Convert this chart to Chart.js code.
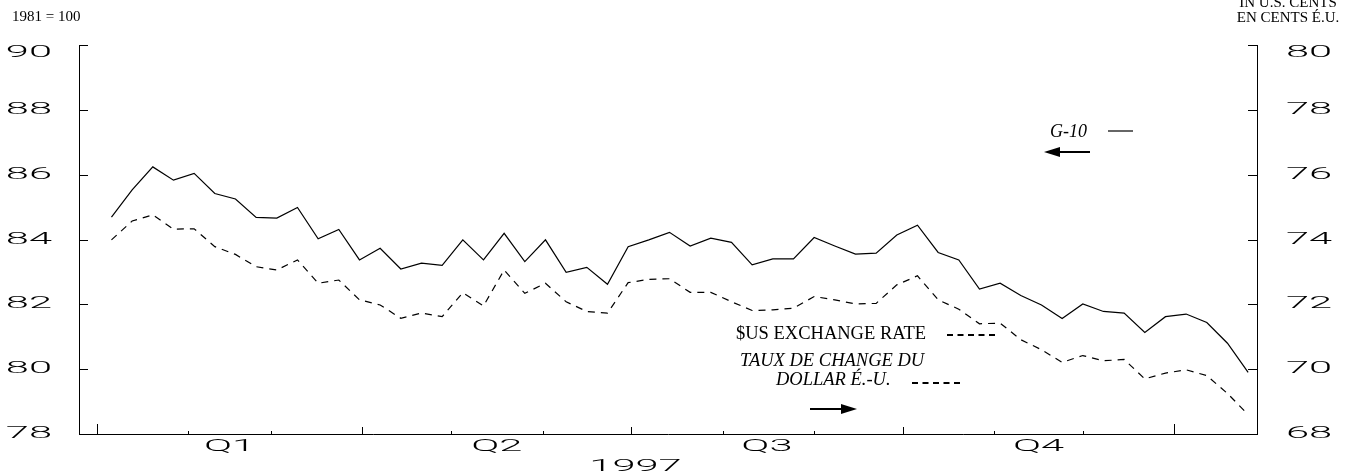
<!DOCTYPE html>
<html>
<head>
<meta charset="utf-8">
<script src="https://cdn.jsdelivr.net/npm/chart.js@4.4.1/dist/chart.umd.min.js"></script>
<style>
  html, body { margin: 0; padding: 0; background: #fff; }
  #wrap { width: 1356px; height: 476px; }
</style>
</head>
<body>
<div id="wrap"><canvas id="chart" width="1356" height="476"></canvas></div>
<script>
// weekly observations (Mondays), Jan 1997 - Jan 1998
var weeks = [
  '1997-01-06','1997-01-13','1997-01-20','1997-01-27',
  '1997-02-03','1997-02-10','1997-02-17','1997-02-24',
  '1997-03-03','1997-03-10','1997-03-17','1997-03-24','1997-03-31',
  '1997-04-07','1997-04-14','1997-04-21','1997-04-28',
  '1997-05-05','1997-05-12','1997-05-19','1997-05-26',
  '1997-06-02','1997-06-09','1997-06-16','1997-06-23','1997-06-30',
  '1997-07-07','1997-07-14','1997-07-21','1997-07-28',
  '1997-08-04','1997-08-11','1997-08-18','1997-08-25',
  '1997-09-01','1997-09-08','1997-09-15','1997-09-22','1997-09-29',
  '1997-10-06','1997-10-13','1997-10-20','1997-10-27',
  '1997-11-03','1997-11-10','1997-11-17','1997-11-24',
  '1997-12-01','1997-12-08','1997-12-15','1997-12-22','1997-12-29',
  '1998-01-05','1998-01-12','1998-01-19','1998-01-26'
];

// G-10 index, 1981 = 100 (left axis)
var g10 = [
  84.69, 85.53, 86.24, 85.83, 86.04, 85.42, 85.25, 84.68,
  84.66, 84.99, 84.02, 84.31, 83.37, 83.73, 83.09, 83.27,
  83.20, 83.99, 83.37, 84.19, 83.32, 83.99, 82.99, 83.14,
  82.62, 83.78, 83.99, 84.22, 83.80, 84.04, 83.91, 83.22,
  83.40, 83.40, 84.06, 83.80, 83.55, 83.58, 84.14, 84.44,
  83.60, 83.37, 82.47, 82.65, 82.27, 81.98, 81.56, 82.01,
  81.78, 81.73, 81.13, 81.62, 81.70, 81.44, 80.80, 79.90
];

// $US exchange rate, in U.S. cents (right axis)
var usRate = [
  73.99, 74.57, 74.76, 74.32, 74.33, 73.78, 73.54, 73.16,
  73.06, 73.37, 72.65, 72.75, 72.14, 71.98, 71.57, 71.73,
  71.62, 72.36, 71.95, 73.06, 72.34, 72.65, 72.08, 71.78,
  71.73, 72.67, 72.77, 72.79, 72.37, 72.37, 72.08, 71.81,
  71.83, 71.88, 72.24, 72.14, 72.01, 72.03, 72.60, 72.88,
  72.14, 71.85, 71.40, 71.42, 70.91, 70.60, 70.21, 70.42,
  70.26, 70.30, 69.70, 69.88, 69.98, 69.80, 69.25, 68.60
];

var monthStarts = [
  '1997-01-01','1997-02-01','1997-03-01','1997-04-01','1997-05-01','1997-06-01',
  '1997-07-01','1997-08-01','1997-09-01','1997-10-01','1997-11-01','1997-12-01',
  '1998-01-01'
];
var quarterLabels = ['Q1', 'Q2', 'Q3', 'Q4'];
var yearLabel = '1997';

function dayOf(s) {
  var p = s.split('-');
  return (Date.UTC(+p[0], +p[1] - 1, +p[2]) - Date.UTC(1997, 0, 1)) / 86400000;
}

var WIDE = 2.6; // horizontal stretch for the extended axis font
function wideText(ctx, str, px, py, align) {
  ctx.save();
  ctx.translate(px, py);
  ctx.scale(WIDE, 1);
  ctx.textAlign = align;
  ctx.textBaseline = 'middle';
  ctx.fillText(str, 0, 0);
  ctx.restore();
}

function seg(ctx, x1, y1, x2, y2) {
  ctx.beginPath();
  ctx.moveTo(x1, y1);
  ctx.lineTo(x2, y2);
  ctx.stroke();
}

function arrow(ctx, x1, x2, y) {
  // shaft from x1 to tip at x2
  var dir = x2 > x1 ? 1 : -1;
  ctx.lineWidth = 2;
  seg(ctx, x1, y, x2 - dir * 12, y);
  ctx.beginPath();
  ctx.moveTo(x2, y);
  ctx.lineTo(x2 - dir * 16, y - 5);
  ctx.lineTo(x2 - dir * 16, y + 5);
  ctx.closePath();
  ctx.fill();
}

var decor = {
  id: 'decor',
  afterDraw: function (chart) {
    var ctx = chart.ctx;
    var xs = chart.scales.x, ys = chart.scales.y, ys2 = chart.scales.y2;
    var area = chart.chartArea;
    ctx.save();
    ctx.strokeStyle = '#000';
    ctx.fillStyle = '#000';
    ctx.lineWidth = 1;

    // inner tick marks on value axes
    ys.ticks.forEach(function (t) {
      var py = Math.round(ys.getPixelForValue(t.value)) + 0.5;
      seg(ctx, area.left, py, area.left + 9, py);
    });
    ys2.ticks.forEach(function (t) {
      var py = Math.round(ys2.getPixelForValue(t.value)) + 0.5;
      seg(ctx, area.right - 9, py, area.right, py);
    });

    // month ticks, longer at quarters and year ends
    monthStarts.forEach(function (m, i) {
      var px = Math.round(xs.getPixelForValue(dayOf(m))) + 0.5;
      var len = (i % 12 === 0) ? 10 : (i % 3 === 0 ? 7 : 3);
      seg(ctx, px, area.bottom, px, area.bottom - len);
    });

    // axis labels in a wide sans
    ctx.font = '300 16px Roboto';
    ys.ticks.forEach(function (t) {
      var py = Math.max(ys.getPixelForValue(t.value), area.top + 8);
      wideText(ctx, String(t.value), 52, py, 'right');
    });
    ys2.ticks.forEach(function (t) {
      var py = Math.max(ys2.getPixelForValue(t.value), area.top + 8);
      wideText(ctx, String(t.value), 1286, py, 'left');
    });
    quarterLabels.forEach(function (q, i) {
      var mid = (dayOf(monthStarts[i * 3]) + dayOf(monthStarts[i * 3 + 3])) / 2;
      wideText(ctx, q, xs.getPixelForValue(mid), area.bottom + 13, 'center');
    });
    var yMid = (dayOf(monthStarts[0]) + dayOf(monthStarts[12])) / 2;
    wideText(ctx, yearLabel, xs.getPixelForValue(yMid), area.bottom + 33, 'center');

    // units
    ctx.font = '15px "Liberation Serif"';
    ctx.textBaseline = 'middle';
    ctx.textAlign = 'left';
    ctx.fillText('1981 = 100', 12, 17);
    ctx.textAlign = 'center';
    ctx.fillText('IN U.S. CENTS', 1288, 3);
    ctx.fillText('EN CENTS É.U.', 1288, 18);

    // legend notes
    ctx.textAlign = 'left';
    ctx.textBaseline = 'alphabetic';
    ctx.font = 'italic 18px "Liberation Serif"';
    ctx.fillText('G-10', 1050, 137);
    ctx.lineWidth = 1.2;
    seg(ctx, 1108, 131, 1133, 131);
    arrow(ctx, 1090, 1044, 152);

    ctx.font = '18.5px "Liberation Serif"';
    ctx.fillText('$US EXCHANGE RATE', 736, 339);
    ctx.font = 'italic 18.5px "Liberation Serif"';
    ctx.fillText('TAUX DE CHANGE DU', 740, 366);
    ctx.fillText('DOLLAR É.-U.', 776, 385);
    ctx.lineWidth = 2;
    ctx.setLineDash([6, 4.5]);
    seg(ctx, 947, 335, 998, 335);
    seg(ctx, 912, 383, 963, 383);
    ctx.setLineDash([]);
    arrow(ctx, 810, 857, 409);
    ctx.restore();
  }
};

var ctx = document.getElementById('chart');
var chart = new Chart(ctx, {
  type: 'line',
  data: {
    datasets: [{
      label: 'G-10',
      data: weeks.map(function (w, i) { return { x: dayOf(w), y: g10[i] }; }),
      yAxisID: 'y',
      borderColor: '#000',
      borderWidth: 1.2,
      pointRadius: 0,
      tension: 0,
      fill: false
    }, {
      label: '$US EXCHANGE RATE',
      data: weeks.map(function (w, i) { return { x: dayOf(w), y: usRate[i] }; }),
      yAxisID: 'y2',
      borderColor: '#000',
      borderWidth: 1.2,
      borderDash: [7, 6],
      pointRadius: 0,
      tension: 0,
      fill: false
    }]
  },
  options: {
    responsive: false,
    animation: false,
    devicePixelRatio: 1,
    layout: { padding: { left: 79, right: 99, top: 45, bottom: 42 } },
    plugins: { legend: { display: false }, tooltip: { enabled: false } },
    scales: {
      x: {
        type: 'linear',
        min: -6,
        max: 393,
        grid: { display: false, drawTicks: false },
        border: { display: true, color: '#000', width: 1 },
        ticks: { display: false }
      },
      y: {
        position: 'left',
        min: 78,
        max: 90,
        grid: { display: false, drawTicks: false },
        border: { display: true, color: '#000', width: 1 },
        ticks: { display: false, stepSize: 2 }
      },
      y2: {
        position: 'right',
        min: 68,
        max: 80,
        grid: { display: false, drawTicks: false },
        border: { display: true, color: '#000', width: 1 },
        ticks: { display: false, stepSize: 2 }
      }
    }
  },
  plugins: [decor]
});
</script>
</body>
</html>
